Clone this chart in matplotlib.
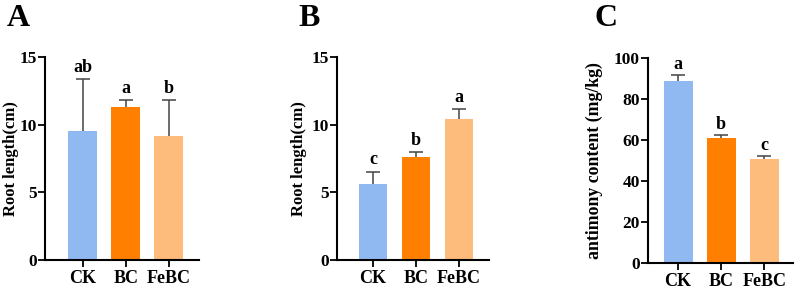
import matplotlib
matplotlib.use("Agg")
import matplotlib.pyplot as plt

plt.rcParams["font.family"] = ["Liberation Serif", "DejaVu Serif"]
plt.rcParams["font.weight"] = "bold"

groups = ["CK", "BC", "FeBC"]
colors = ["#90b9f2", "#ff7f00", "#fdbb7c"]

root_a = [9.55, 11.33, 9.2]
root_a_err = [3.8, 0.5, 2.6]
letters_a = ["ab", "a", "b"]

root_b = [5.62, 7.64, 10.4]
root_b_err = [0.9, 0.32, 0.74]
letters_b = ["c", "b", "a"]

sb = [88.9, 61.3, 51.0]
sb_err = [3.0, 1.3, 1.5]
letters_c = ["a", "b", "c"]

fig = plt.figure(figsize=(7.97, 2.92), dpi=100)


def panel(rect, vals, errs, letters, ylim, yticks, ylabel, labx, labsize,
          tag, tagx, xlim, pad):
    ax = fig.add_axes(rect)
    x = list(range(len(groups)))
    ax.bar(x, vals, width=0.67, color=colors, zorder=2)
    # only the upper half of the error bar, cap on top only
    _, caps, _ = ax.errorbar(x, vals, yerr=[[0] * 3, errs], fmt="none",
                             ecolor="#444444", elinewidth=1.1, capsize=5,
                             capthick=1.1, zorder=3)
    caps[0].set_visible(False)
    for xi, v, e, t in zip(x, vals, errs, letters):
        ax.text(xi, v + e + pad, t, ha="center", va="bottom",
                fontsize=13, fontweight="bold")
    ax.set_xlim(*xlim)
    ax.set_ylim(*ylim)
    ax.set_yticks(yticks)
    ax.set_xticks(x)
    ax.set_xticklabels(groups, fontsize=13, fontweight="bold")
    ax.tick_params(axis="y", labelsize=12.5, length=5, width=1.3, pad=1)
    ax.tick_params(axis="x", length=5, width=1.3, pad=2)
    for lbl in ax.get_yticklabels():
        lbl.set_fontweight("bold")
    ax.spines["top"].set_visible(False)
    ax.spines["right"].set_visible(False)
    ax.spines["left"].set_linewidth(1.5)
    ax.spines["bottom"].set_linewidth(1.5)
    ax.set_ylabel(ylabel, fontsize=labsize, fontweight="bold")
    ax.yaxis.set_label_coords(labx, 0.5)
    fig.text(tagx, 0.935, tag, fontsize=23, fontweight="bold",
             ha="left", va="center")
    return ax


panel([0.0565, 0.1096, 0.193, 0.695], root_a, root_a_err, letters_a,
      (0, 15), [0, 5, 10, 15], "Root length(cm)", -0.172, 12, "A", 0.008,
      (-0.88, 2.7), 0.25)
panel([0.4228, 0.1096, 0.1907, 0.695], root_b, root_b_err, letters_b,
      (0, 15), [0, 5, 10, 15], "Root length(cm)", -0.2, 12, "B", 0.374,
      (-0.84, 2.7), 0.25)
panel([0.813, 0.0983, 0.182, 0.702], sb, sb_err, letters_c,
      (0, 100), [0, 20, 40, 60, 80, 100], "antimony content (mg/kg)", -0.31,
      12.8, "C", 0.746, (-0.7, 2.67), 1.0)

fig.savefig("out.png", dpi=100)
